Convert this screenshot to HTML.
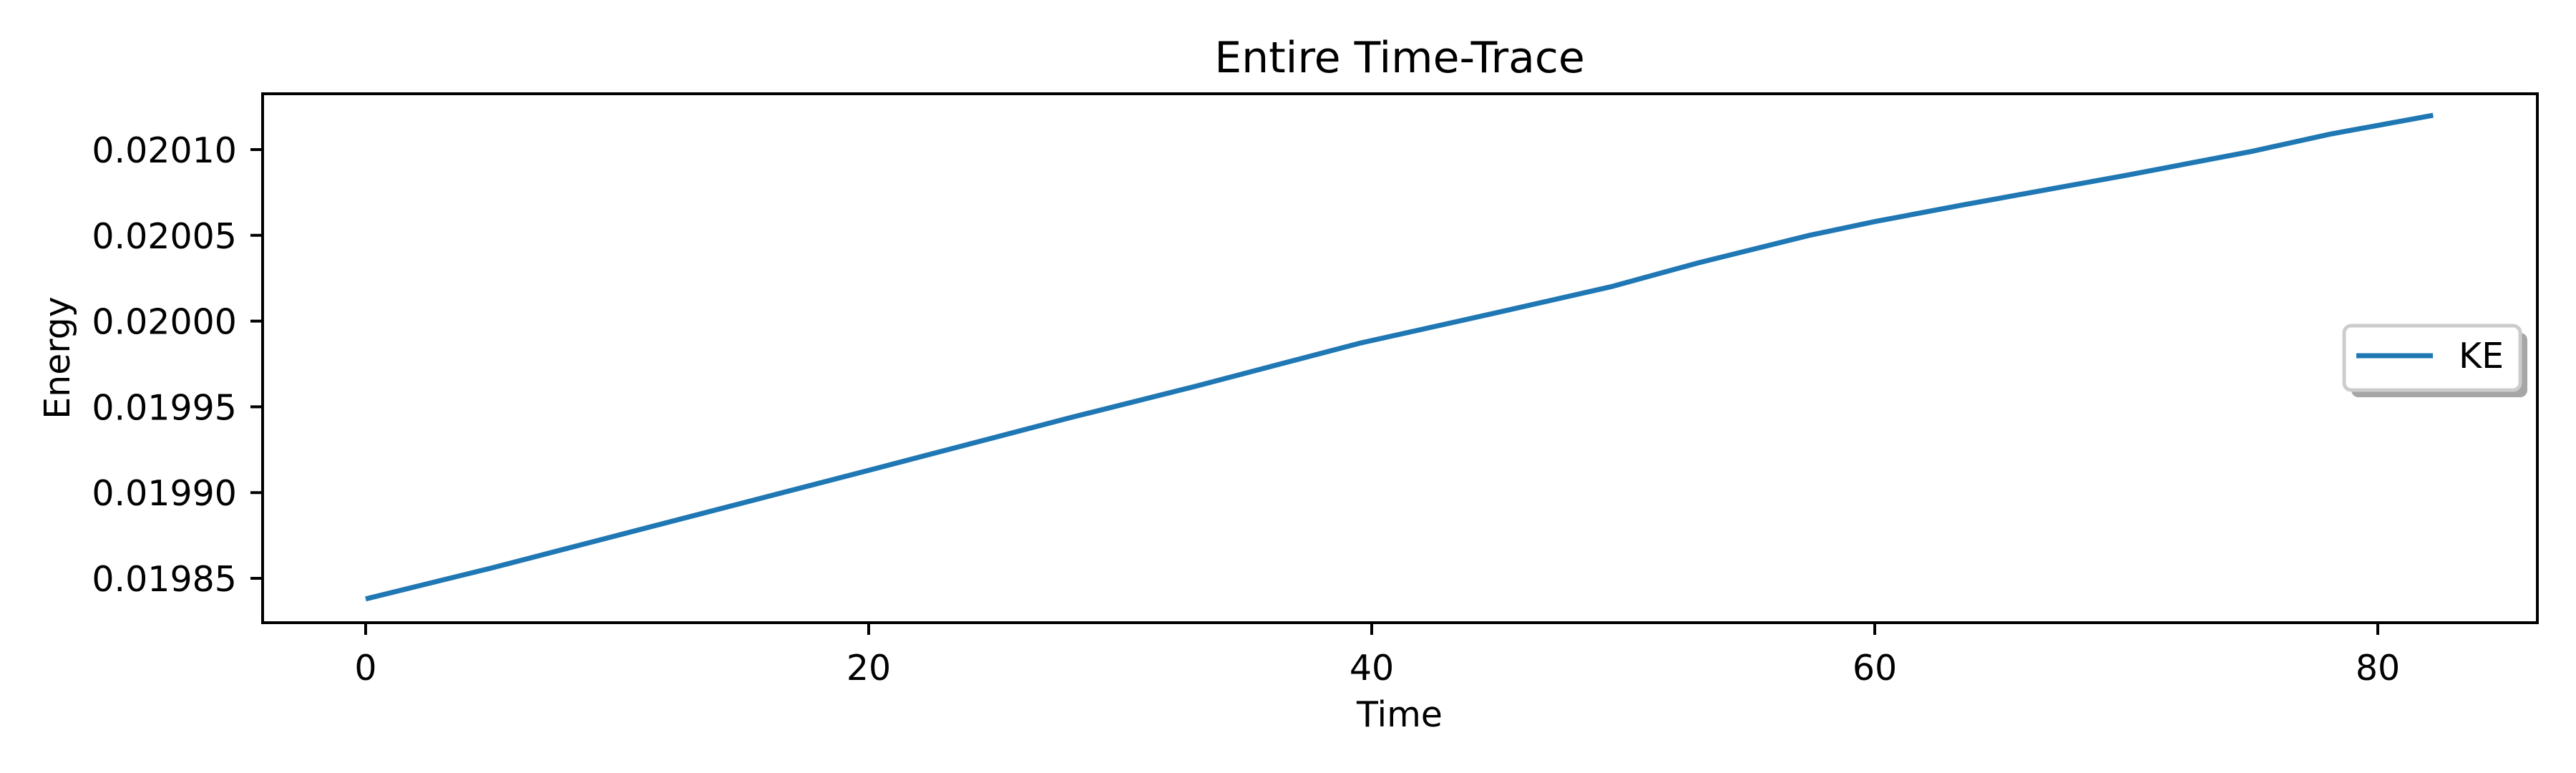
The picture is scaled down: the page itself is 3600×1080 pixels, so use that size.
<!DOCTYPE html>
<html><head><meta charset="utf-8"><style>
html,body{margin:0;padding:0;background:#fff;}
svg{display:block;}
text{font-family:"DejaVu Sans","Liberation Sans",sans-serif;fill:#000;}
</style></head><body>
<svg id="chart" width="3600" height="1080" viewBox="0 0 3600 1080" xmlns="http://www.w3.org/2000/svg">
<rect width="3600" height="1080" fill="#fff"/>
<text x="1956" y="101" font-size="60" text-anchor="middle">Entire Time-Trace</text>
<text x="1956" y="1015" font-size="49" text-anchor="middle">Time</text>
<text transform="translate(97,500) rotate(-90)" font-size="49" text-anchor="middle">Energy</text>
<g id="ticks"></g>
<polyline id="ke-line" fill="none" stroke="#1f77b4" stroke-width="7" stroke-linejoin="round"/>
<rect x="367" y="131" width="3179" height="739" fill="none" stroke="#000" stroke-width="4"/>
<g>
<rect x="3286" y="465" width="246" height="90" rx="10" fill="#a6a6a6"/>
<rect x="3276" y="455" width="246" height="90" rx="10" fill="#fff" stroke="#cccccc" stroke-width="5"/>
<line x1="3293" y1="497" x2="3400" y2="497" stroke="#1f77b4" stroke-width="7"/>
<text x="3436" y="514" font-size="49">KE</text>
</g>
</svg>
<script>
const times = [0, 5, 10, 15, 20, 28.1, 33, 39.5, 45, 49.5, 53, 57.4, 60, 63.6, 70, 75, 78.1, 82.2];
const energy = [0.019838, 0.019856, 0.019875, 0.019894, 0.019913, 0.019944, 0.019962, 0.019987, 0.020005, 0.020020, 0.020034, 0.020050, 0.020058, 0.020068, 0.020085, 0.020099, 0.020109, 0.020120];
const xTicks = [0, 20, 40, 60, 80];
const yTicks = [0.01985, 0.01990, 0.01995, 0.02000, 0.02005, 0.02010];
const yTickLabels = ["0.01985", "0.01990", "0.01995", "0.02000", "0.02005", "0.02010"];

const L = 367, R = 3546, T = 131, B = 870;
function xs(t){ return 511 + t * 35.15; }
function ys(v){ return 808 - (v - 0.01985) * 599 / 0.00025; }

const ns = "http://www.w3.org/2000/svg";
const g = document.getElementById('ticks');
xTicks.forEach(t => {
  const l = document.createElementNS(ns, 'line');
  l.setAttribute('x1', xs(t)); l.setAttribute('x2', xs(t));
  l.setAttribute('y1', B); l.setAttribute('y2', B + 17);
  l.setAttribute('stroke', '#000'); l.setAttribute('stroke-width', '4');
  
  
  g.appendChild(l);
  const tx = document.createElementNS(ns, 'text');
  tx.setAttribute('x', xs(t)); tx.setAttribute('y', 950);
  tx.setAttribute('font-size', '49'); tx.setAttribute('text-anchor', 'middle');
  tx.textContent = String(t);
  
  
  g.appendChild(tx);
});
yTicks.forEach((v, i) => {
  const l = document.createElementNS(ns, 'line');
  l.setAttribute('x1', L - 17); l.setAttribute('x2', L);
  l.setAttribute('y1', ys(v)); l.setAttribute('y2', ys(v));
  l.setAttribute('stroke', '#000'); l.setAttribute('stroke-width', '4');
  
  
  g.appendChild(l);
  const tx = document.createElementNS(ns, 'text');
  tx.setAttribute('x', 331); tx.setAttribute('y', ys(v) + 18);
  tx.setAttribute('font-size', '49'); tx.setAttribute('text-anchor', 'end');
  tx.textContent = yTickLabels[i];
  
  
  g.appendChild(tx);
});
document.getElementById('ke-line').setAttribute('points',
  times.map((t, i) => xs(t).toFixed(1) + ',' + ys(energy[i]).toFixed(1)).join(' '));
</script>
</body></html>
